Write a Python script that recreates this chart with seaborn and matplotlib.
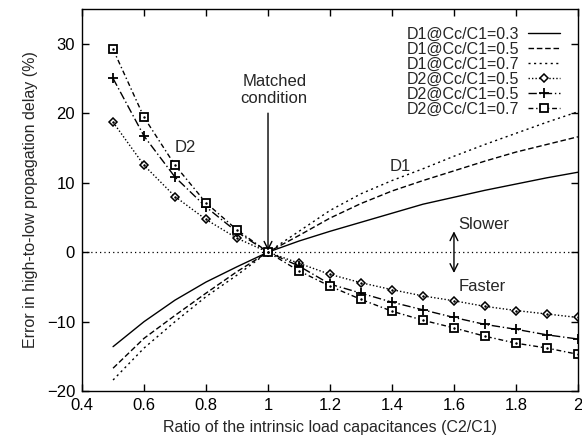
import numpy as np
import pandas as pd
import matplotlib
matplotlib.use("Agg")
import matplotlib.pyplot as plt
import seaborn as sns

sns.set_theme(style="ticks")
plt.rcParams['font.family'] = ['Liberation Sans', 'DejaVu Sans']

# ---- data ----
x_ratio = [0.5, 0.6, 0.7, 0.8, 0.9, 1.0, 1.1, 1.2, 1.3, 1.4, 1.5, 1.6, 1.7, 1.8, 1.9, 2.0]

d1_cc03 = [-13.6, -10.0, -6.9, -4.3, -2.1, 0.0, 1.6, 3.0, 4.3, 5.6, 6.9, 7.9, 8.9, 9.8, 10.7, 11.5]
d1_cc05 = [-16.7, -12.4, -9.1, -5.9, -2.8, 0.0, 2.4, 4.9, 7.0, 8.8, 10.3, 11.7, 13.1, 14.4, 15.5, 16.6]
d1_cc07 = [-18.4, -13.8, -10.0, -6.4, -3.3, 0.0, 3.0, 6.0, 8.4, 10.3, 12.0, 13.8, 15.5, 17.1, 18.7, 20.2]
d2_cc05_a = [18.7, 12.5, 8.0, 4.7, 2.0, 0.0, -1.6, -3.2, -4.4, -5.4, -6.3, -7.0, -7.8, -8.4, -8.9, -9.4]
d2_cc05_b = [25.0, 16.7, 10.8, 6.5, 2.9, 0.0, -2.0, -4.6, -5.9, -7.2, -8.3, -9.4, -10.4, -11.1, -11.9, -12.5]
d2_cc07 = [29.2, 19.4, 12.5, 7.1, 3.2, 0.0, -2.7, -4.9, -6.8, -8.5, -9.8, -10.9, -12.1, -13.1, -13.8, -14.7]

labels = ["D1@Cc/C1=0.3", "D1@Cc/C1=0.5", "D1@Cc/C1=0.7",
          "D2@Cc/C1=0.5", "D2@Cc/C1=0.5", "D2@Cc/C1=0.7"]
xtick_vals = [0.4, 0.6, 0.8, 1.0, 1.2, 1.4, 1.6, 1.8, 2.0]
xtick_labels = ["0.4", "0.6", "0.8", "1", "1.2", "1.4", "1.6", "1.8", "2"]
ytick_vals = [-20, -10, 0, 10, 20, 30]

fig, ax = plt.subplots(figsize=(5.82, 4.46), dpi=100)
fig.subplots_adjust(left=0.141, right=0.993, top=0.980, bottom=0.123)

ax.axhline(0, color='black', lw=0.9, ls=(0, (1, 2.5)), zorder=1)

series = [d1_cc03, d1_cc05, d1_cc07, d2_cc05_a, d2_cc05_b, d2_cc07]
styles = [
    dict(linestyle='-', marker=None),
    dict(linestyle=(0, (4, 2)), marker=None),
    dict(linestyle=(0, (1.5, 2.5)), marker=None),
    dict(linestyle=(0, (1, 1.5)), marker='D', markersize=4.5, markerfacecolor='white',
         markeredgewidth=1.1, markeredgecolor='black'),
    dict(linestyle=(0, (6, 2, 1, 2)), marker='+', markersize=7.5, markeredgewidth=1.3,
         markeredgecolor='black'),
    dict(linestyle=(0, (3.5, 2, 1, 2)), marker='s', markersize=5.5, markerfacecolor='white',
         markeredgewidth=1.3, markeredgecolor='black'),
]
for ys, lab, st in zip(series, labels, styles):
    sns.lineplot(x=x_ratio, y=ys, ax=ax, color='black', lw=1.0, label=lab, **st)

# inner dots of diamond/square markers
for ys in (d2_cc05_a, d2_cc07):
    sns.lineplot(x=x_ratio, y=ys, ax=ax, color='black', linestyle='none',
                 marker='.', markersize=2, markeredgecolor='black', legend=False)

ax.set_xlim(0.4, 2.0)
ax.set_ylim(-20, 35)
ax.set_xticks(xtick_vals)
ax.set_xticklabels(xtick_labels)
ax.set_yticks(ytick_vals)
ax.tick_params(direction='in', length=5, width=1, top=True, right=True,
               labelsize=12, pad=5, colors='black')
for sp in ax.spines.values():
    sp.set_visible(True)
    sp.set_linewidth(1.0)
    sp.set_color('black')

ax.set_xlabel("Ratio of the intrinsic load capacitances (C2/C1)", fontsize=11.5, labelpad=5)
ax.set_ylabel("Error in high-to-low propagation delay (%)", fontsize=11.5, labelpad=6)

# annotations
ax.annotate('', xy=(1.0, 0.2), xytext=(1.0, 20.0),
            arrowprops=dict(arrowstyle='->', color='black', lw=1.0, mutation_scale=14,
                            shrinkA=0, shrinkB=0))
ax.text(1.02, 21.0, "Matched\ncondition", ha='center', va='bottom', fontsize=12,
        linespacing=1.15)
ax.text(0.734, 15.1, "D2", ha='center', va='center', fontsize=12)
ax.text(1.426, 12.3, "D1", ha='center', va='center', fontsize=12)
ax.annotate('', xy=(1.6, 3.0), xytext=(1.6, -3.0),
            arrowprops=dict(arrowstyle='<->', color='black', lw=1.0, mutation_scale=14,
                            shrinkA=0, shrinkB=0))
ax.text(1.615, 4.0, "Slower", ha='left', va='center', fontsize=12)
ax.text(1.615, -5.0, "Faster", ha='left', va='center', fontsize=12)

leg = ax.legend(loc='upper right', frameon=False, markerfirst=False, fontsize=11.5,
                labelspacing=0.0, handlelength=2.0, handletextpad=0.6,
                borderaxespad=0.7, numpoints=1)

fig.savefig("out.png", dpi=100)
